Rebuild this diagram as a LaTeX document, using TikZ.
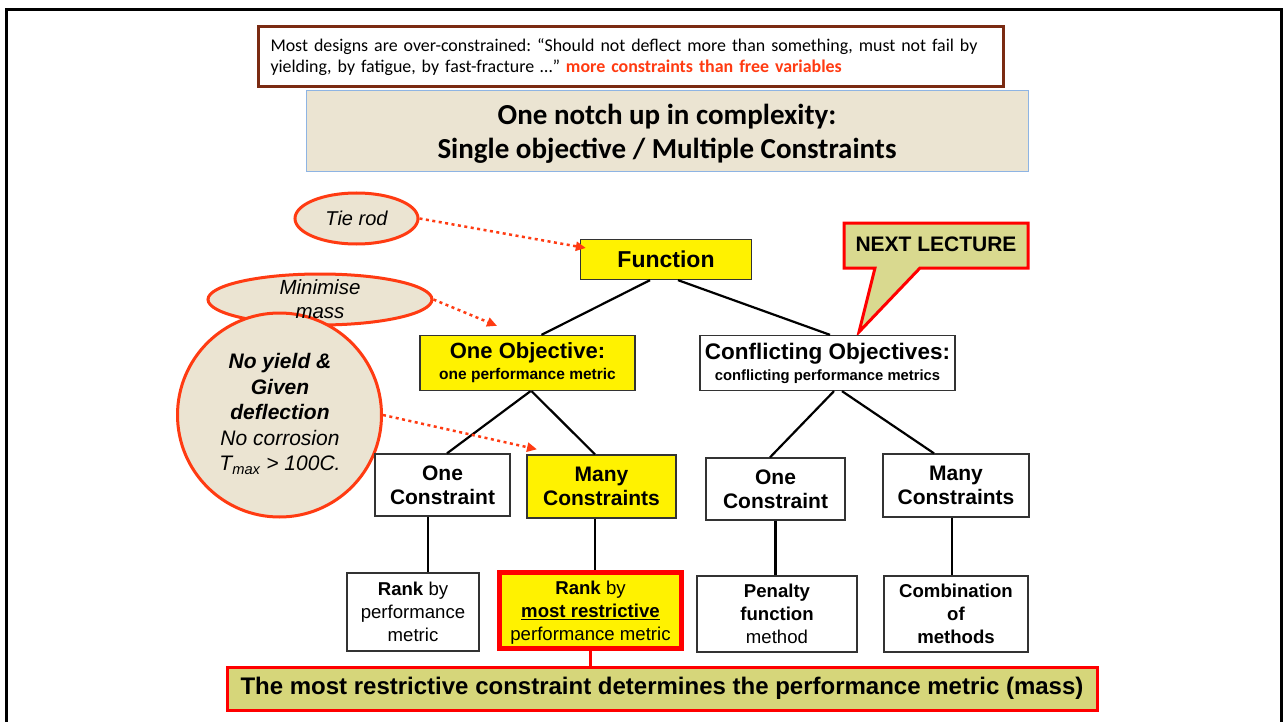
\documentclass[tikz,border=0pt]{standalone}
\usepackage{fontspec}
\setmainfont{Liberation Sans}
\newfontfamily\calib{Carlito}
\usetikzlibrary{shapes.geometric,arrows.meta}
\frenchspacing
\definecolor{beige}{HTML}{EBE4D2}
\definecolor{ored}{HTML}{FF3B12}
\definecolor{maroonc}{HTML}{7A2A12}
\definecolor{tblue}{HTML}{8EB4E3}
\definecolor{khaki}{HTML}{D9D98F}
\definecolor{khakib}{HTML}{D6D67A}
\definecolor{boxline}{HTML}{333333}
\tikzset{
 box/.style={draw=boxline, line width=1.3pt, inner sep=0pt, align=center, font=\bfseries\fontsize{21}{24}\selectfont},
 ybox/.style={box, fill=yellow},
 wbox/.style={box, fill=white},
 rankbox/.style={box, fill=white, font=\fontsize{18.6}{23}\selectfont},
 link/.style={line width=2.2pt, black},
 hint/.style={draw=ored, line width=3pt, fill=beige},
 dotarrow/.style={ored, line width=2.5pt, dash pattern=on 3pt off 3.5pt, -{Triangle[length=10pt,width=9pt]}},
}
\begin{document}
\begin{tikzpicture}[x=1pt,y=-1pt]
\useasboundingbox (0,0) rectangle (1284,722);
\fill[white] (0,0) rectangle (1284,722);
\draw[line width=3pt, black] (6,735) -- (6,10) -- (1281,10) -- (1281,735);

% top note
\node[draw=maroonc, line width=3pt, fill=white, minimum width=745pt, minimum height=60pt, inner sep=0pt,
      text width=721pt, align=left, font=\calib\fontsize{17.9}{21}\selectfont] (note) at (631,57)
 {\mbox{Most designs are over-constrained: “Should not deflect more than something, must not fail by}\\
  \mbox{yielding, by fatigue, by fast-fracture …” {\bfseries\color{ored}more constraints than free variables}}};

% title
\node[draw=tblue, line width=1pt, fill=beige, minimum width=722pt, minimum height=81pt, inner sep=0pt] (title) at (667,131) {};
\node[align=center, inner sep=0pt, font=\calib\bfseries\fontsize{29}{34}\selectfont] (titletext) at (667,134)
 {One notch up in complexity:\\Single objective / Multiple Constraints};

% hints
\node[hint, ellipse, minimum width=123pt, minimum height=51pt, inner sep=0pt, font=\itshape\fontsize{20}{24}\selectfont] (tie) at (356.5,218.5) {Tie rod};
\node[hint, ellipse, minimum width=224pt, minimum height=51pt, inner sep=0pt] (mm) at (320,299.5) {};
\node[hint, circle, minimum size=204pt, inner sep=0pt] (cons) at (279.5,415) {};
\node[align=center, font=\itshape\fontsize{20.5}{24}\selectfont, inner sep=0pt] (mmtext) at (mm) {Minimise\\mass};
\node[align=center, font=\itshape\fontsize{21}{25.5}\selectfont, inner sep=0pt] (constext) at (280,414)
 {\bfseries No yield \&\\\bfseries Given\\\bfseries deflection\\No corrosion\\T\textsubscript{max} > 100C.};

% callout
\draw[draw=red, line width=3pt, fill=khaki, line join=miter] (844,223) -- (1028,223) -- (1028,268) -- (920,268) -- (859,332) -- (875,268) -- (844,268) -- cycle;
\node[font=\bfseries\fontsize{21}{24}\selectfont, inner sep=0pt] (next) at (936,244) {NEXT LECTURE};

% tree
\node[ybox, minimum width=171pt, minimum height=40pt, font=\bfseries\fontsize{23}{26}\selectfont] (func) at (666,259.5) {Function};
\node[ybox, minimum width=215pt, minimum height=55pt, font=\bfseries\fontsize{22}{24}\selectfont] (obj1) at (527.5,363)
 {One Objective:\\[-3pt]{\fontsize{15.5}{17}\selectfont one performance metric}};
\node[wbox, minimum width=255pt, minimum height=55pt, font=\bfseries\fontsize{22.5}{24}\selectfont] (obj2) at (827.5,363)
 {Conflicting Objectives:\\[-3pt]{\fontsize{14.8}{17}\selectfont conflicting performance metrics}};

\node[wbox, minimum width=135pt, minimum height=62pt] (c1) at (442.5,485) {One\\Constraint};
\node[ybox, minimum width=149pt, minimum height=63pt] (c2) at (601.5,486.5) {Many\\Constraints};
\node[wbox, minimum width=139pt, minimum height=62pt] (c3) at (775.5,489) {One\\Constraint};
\node[wbox, minimum width=146pt, minimum height=63pt] (c4) at (956,485.5) {Many\\Constraints};

\node[rankbox, minimum width=132pt, minimum height=78pt] (r1) at (413,612) {\textbf{Rank} by\\performance\\metric};
\node[rankbox, fill=yellow, draw=red, line width=5pt, minimum width=182pt, minimum height=76pt, text depth=0pt] (r2) at (590.5,610.5)
 {\textbf{Rank} by\\\textbf{\underline{most restrictive}}\\performance metric};
\node[rankbox, minimum width=160pt, minimum height=76pt] (r3) at (777,614) {\textbf{Penalty}\\\textbf{function}\\method};
\node[rankbox, minimum width=144pt, minimum height=76pt] (r4) at (956,614) {\textbf{Combination}\\\textbf{of}\\\textbf{methods}};

\node[draw=red, line width=3pt, fill=khakib, minimum width=870pt, minimum height=43pt, inner sep=0pt,
      font=\bfseries\fontsize{24}{26}\selectfont] (bar) at (662,688.5)
 {The most restrictive constraint determines the performance metric (mass)};

% connectors
\draw[link] ([xshift=-16pt]func.south) -- ([xshift=14pt]obj1.north);
\draw[link] ([xshift=12pt]func.south) -- ([xshift=2.5pt]obj2.north);
\draw[link] ([xshift=3pt]obj1.south) -- ([xshift=4.5pt]c1.north);
\draw[link] ([xshift=4pt]obj1.south) -- ([xshift=-6.5pt]c2.north);
\draw[link] ([xshift=6.5pt]obj2.south) -- ([xshift=-5.5pt]c3.north);
\draw[link] ([xshift=14.5pt]obj2.south) -- ([xshift=-22pt]c4.north);
\draw[link] ([xshift=-14.5pt]c1.south) -- ([xshift=-14.5pt]c1.south |- r1.north);
\draw[link] ([xshift=-6.5pt]c2.south) -- ([xshift=-6.5pt]c2.south |- r2.north);
\draw[link] (c3.south) -- (c3.south |- r3.north);
\draw[link] ([xshift=-4pt]c4.south) -- ([xshift=-4pt]c4.south |- r4.north);
\draw[red, line width=3pt] (r2.south) -- (r2.south |- bar.north);

\draw[dotarrow] (tie.east) -- ([xshift=6pt,yshift=11.5pt]func.west);
\draw[dotarrow] (mm.east) -- ([xshift=-30.5pt,yshift=9pt]obj1.north);
\draw[dotarrow] (cons.east) -- ([xshift=-64.5pt,yshift=5pt]c2.north);
\end{tikzpicture}
\end{document}
